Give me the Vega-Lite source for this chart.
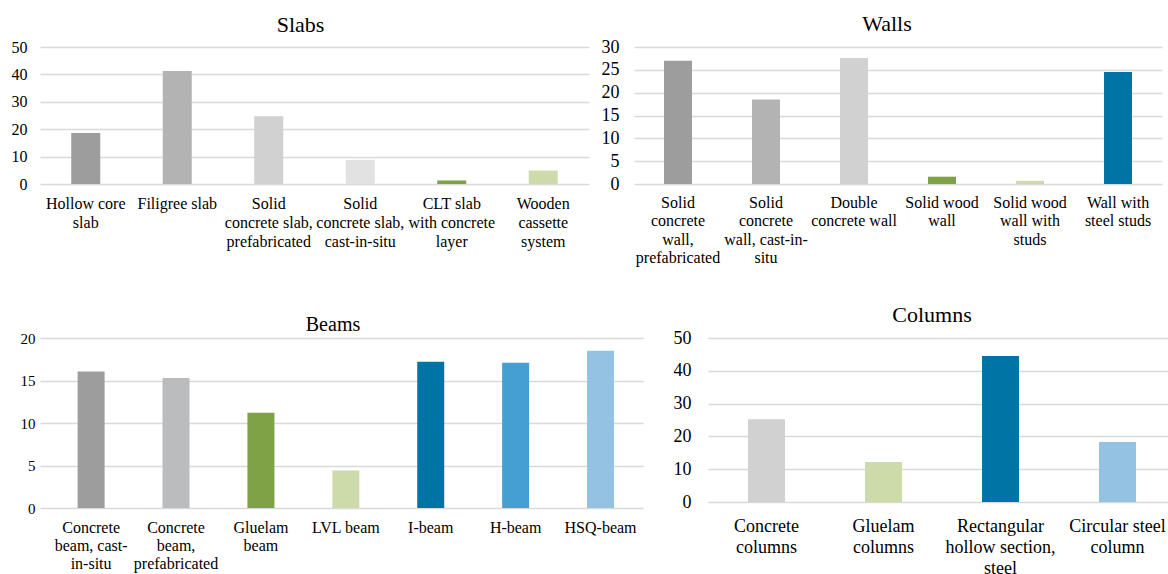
{
  "$schema": "https://vega.github.io/schema/vega-lite/v6.json",
  "padding": {"left": 7, "top": 13, "right": 0, "bottom": 0},
  "background": "white",
  "config": {
    "view": {"stroke": null},
    "font": "Liberation Serif",
    "title": {"font": "Liberation Serif", "fontWeight": "normal", "color": "black", "baseline": "middle", "anchor": "middle", "frame": "group"},
    "axis": {"labelFont": "Liberation Serif", "labelColor": "black", "domain": false, "ticks": false, "tickSize": 0, "title": null},
    "axisX": {"grid": false, "labelAngle": 0, "labelBaseline": "top", "labelLimit": 200},
    "axisY": {"grid": true, "gridColor": "#d9d9d9", "gridWidth": 1.6}
  },
  "data": {
    "values": [
      {"group": "Slabs", "element": "Hollow core slab", "value": 18.6},
      {"group": "Slabs", "element": "Filigree slab", "value": 41.2},
      {"group": "Slabs", "element": "Solid concrete slab, prefabricated", "value": 24.7},
      {"group": "Slabs", "element": "Solid concrete slab, cast-in-situ", "value": 8.8},
      {"group": "Slabs", "element": "CLT slab with concrete layer", "value": 1.3},
      {"group": "Slabs", "element": "Wooden cassette system", "value": 4.9},
      {"group": "Walls", "element": "Solid concrete wall, prefabricated", "value": 27.0},
      {"group": "Walls", "element": "Solid concrete wall, cast-in-situ", "value": 18.5},
      {"group": "Walls", "element": "Double concrete wall", "value": 27.6},
      {"group": "Walls", "element": "Solid wood wall", "value": 1.6},
      {"group": "Walls", "element": "Solid wood wall with studs", "value": 0.7},
      {"group": "Walls", "element": "Wall with steel studs", "value": 24.5},
      {"group": "Beams", "element": "Concrete beam, cast-in-situ", "value": 16.05},
      {"group": "Beams", "element": "Concrete beam, prefabricated", "value": 15.3},
      {"group": "Beams", "element": "Gluelam beam", "value": 11.2},
      {"group": "Beams", "element": "LVL beam", "value": 4.4},
      {"group": "Beams", "element": "I-beam", "value": 17.2},
      {"group": "Beams", "element": "H-beam", "value": 17.1},
      {"group": "Beams", "element": "HSQ-beam", "value": 18.5},
      {"group": "Columns", "element": "Concrete columns", "value": 25.2},
      {"group": "Columns", "element": "Gluelam columns", "value": 12.2},
      {"group": "Columns", "element": "Rectangular hollow section, steel", "value": 44.5},
      {"group": "Columns", "element": "Circular steel column", "value": 18.3}
    ]
  },
  "bounds": "full",
  "spacing": 38,
  "vconcat": [
    {
      "spacing": 11,
      "resolve": {"scale": {"color": "independent"}},
      "hconcat": [
        {
          "title": {"text": "Slabs", "fontSize": 22, "offset": 2, "dx": -14},
          "width": 549, "height": 137,
          "transform": [{"filter": "datum.group == 'Slabs'"}],
          "mark": {"type": "bar", "width": {"band": 0.317}},
          "encoding": {
            "x": {"field": "element", "type": "nominal", "sort": null,
              "scale": {"paddingInner": 0, "paddingOuter": 0},
              "axis": {"labelFontSize": 16, "labelLineHeight": 19, "labelPadding": 11,
                "labelExpr": "datum.value == 'Hollow core slab' ? ['Hollow core', 'slab'] : datum.value == 'Solid concrete slab, prefabricated' ? ['Solid', 'concrete slab,', 'prefabricated'] : datum.value == 'Solid concrete slab, cast-in-situ' ? ['Solid', 'concrete slab,', 'cast-in-situ'] : datum.value == 'CLT slab with concrete layer' ? ['CLT slab', 'with concrete', 'layer'] : datum.value == 'Wooden cassette system' ? ['Wooden', 'cassette', 'system'] : datum.label"}},
            "y": {"field": "value", "type": "quantitative",
              "scale": {"domain": [0, 50], "nice": false},
              "axis": {"values": [0, 10, 20, 30, 40, 50], "labelFontSize": 16, "labelPadding": 13, "minExtent": 33, "maxExtent": 33}},
            "color": {"field": "element", "type": "nominal", "legend": null,
              "scale": {"domain": ["Hollow core slab", "Filigree slab", "Solid concrete slab, prefabricated", "Solid concrete slab, cast-in-situ", "CLT slab with concrete layer", "Wooden cassette system"],
                "range": ["#9d9d9d", "#b3b3b3", "#d0d1d0", "#e2e2e2", "#7fa246", "#ccdba9"]}}
          }
        },
        {
          "title": {"text": "Walls", "fontSize": 22, "offset": 2, "dx": -11},
          "width": 528, "height": 137,
          "transform": [{"filter": "datum.group == 'Walls'"}],
          "mark": {"type": "bar", "width": {"band": 0.318}},
          "encoding": {
            "x": {"field": "element", "type": "nominal", "sort": null,
              "scale": {"paddingInner": 0, "paddingOuter": 0},
              "axis": {"labelFontSize": 16, "labelLineHeight": 18.5, "labelPadding": 10,
                "labelExpr": "datum.value == 'Solid concrete wall, prefabricated' ? ['Solid', 'concrete', 'wall,', 'prefabricated'] : datum.value == 'Solid concrete wall, cast-in-situ' ? ['Solid', 'concrete', 'wall, cast-in-', 'situ'] : datum.value == 'Double concrete wall' ? ['Double', 'concrete wall'] : datum.value == 'Solid wood wall' ? ['Solid wood', 'wall'] : datum.value == 'Solid wood wall with studs' ? ['Solid wood', 'wall with', 'studs'] : datum.value == 'Wall with steel studs' ? ['Wall with', 'steel studs'] : datum.label"}},
            "y": {"field": "value", "type": "quantitative",
              "scale": {"domain": [0, 30], "nice": false},
              "axis": {"values": [0, 5, 10, 15, 20, 25, 30], "labelFontSize": 18, "labelPadding": 15, "minExtent": 34, "maxExtent": 34}},
            "color": {"field": "element", "type": "nominal", "legend": null,
              "scale": {"domain": ["Solid concrete wall, prefabricated", "Solid concrete wall, cast-in-situ", "Double concrete wall", "Solid wood wall", "Solid wood wall with studs", "Wall with steel studs"],
                "range": ["#9d9d9d", "#b3b3b3", "#d0d1d0", "#7fa246", "#ccdba9", "#0075a5"]}}
          }
        }
      ]
    },
    {
      "spacing": 29,
      "resolve": {"scale": {"color": "independent"}},
      "hconcat": [
        {
          "title": {"text": "Beams", "fontSize": 20, "offset": -3.6, "dx": -8.5},
          "width": 603, "height": 170,
          "transform": [{"filter": "datum.group == 'Beams'"}],
          "mark": {"type": "bar", "width": {"band": 0.318}},
          "encoding": {
            "x": {"field": "element", "type": "nominal", "sort": null,
              "scale": {"paddingInner": 0, "paddingOuter": 0.051, "align": 1},
              "axis": {"labelFontSize": 16, "labelLineHeight": 18, "labelPadding": 11,
                "labelExpr": "datum.value == 'Concrete beam, cast-in-situ' ? ['Concrete', 'beam, cast-', 'in-situ'] : datum.value == 'Concrete beam, prefabricated' ? ['Concrete', 'beam,', 'prefabricated'] : datum.value == 'Gluelam beam' ? ['Gluelam', 'beam'] : datum.label"}},
            "y": {"field": "value", "type": "quantitative",
              "scale": {"domain": [0, 20], "nice": false},
              "axis": {"values": [0, 5, 10, 15, 20], "labelFontSize": 15, "labelPadding": 5, "minExtent": 33, "maxExtent": 33}},
            "color": {"field": "element", "type": "nominal", "legend": null,
              "scale": {"domain": ["Concrete beam, cast-in-situ", "Concrete beam, prefabricated", "Gluelam beam", "LVL beam", "I-beam", "H-beam", "HSQ-beam"],
                "range": ["#9d9d9d", "#bbbcbd", "#7fa246", "#ccdba9", "#0075a5", "#459fd3", "#93c2e2"]}}
          }
        },
        {
          "title": {"text": "Columns", "fontSize": 22, "offset": 1.9, "dx": -10},
          "width": 468, "height": 164,
          "transform": [{"filter": "datum.group == 'Columns'"}],
          "mark": {"type": "bar", "width": {"band": 0.316}},
          "encoding": {
            "x": {"field": "element", "type": "nominal", "sort": null,
              "scale": {"paddingInner": 0, "paddingOuter": 0},
              "axis": {"labelFontSize": 18, "labelLineHeight": 21, "labelPadding": 15,
                "labelExpr": "datum.value == 'Concrete columns' ? ['Concrete', 'columns'] : datum.value == 'Gluelam columns' ? ['Gluelam', 'columns'] : datum.value == 'Rectangular hollow section, steel' ? ['Rectangular', 'hollow section,', 'steel'] : datum.value == 'Circular steel column' ? ['Circular steel', 'column'] : datum.label"}},
            "y": {"field": "value", "type": "quantitative",
              "scale": {"domain": [0, 50], "nice": false},
              "axis": {"values": [0, 10, 20, 30, 40, 50], "labelFontSize": 18, "labelPadding": 17, "minExtent": 36, "maxExtent": 36}},
            "color": {"field": "element", "type": "nominal", "legend": null,
              "scale": {"domain": ["Concrete columns", "Gluelam columns", "Rectangular hollow section, steel", "Circular steel column"],
                "range": ["#d0d1d0", "#ccdba9", "#0075a5", "#93c2e2"]}}
          }
        }
      ]
    }
  ]
}
